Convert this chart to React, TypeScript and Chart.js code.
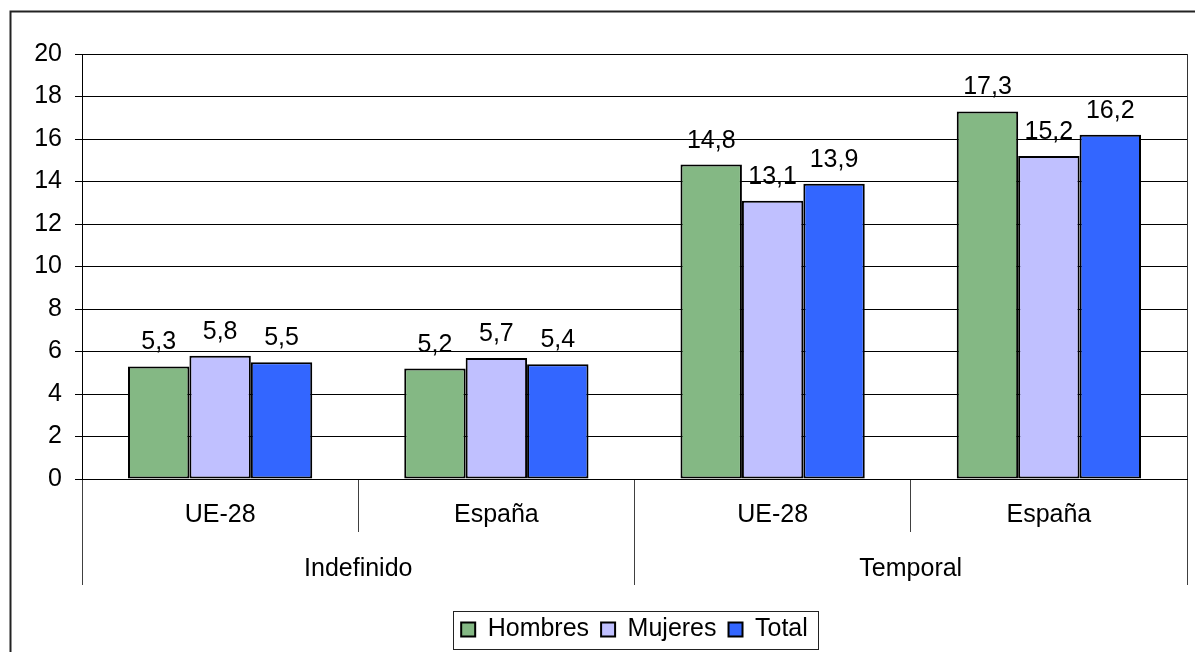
import React, { useEffect, useRef } from "react";
import { Chart, registerables } from "chart.js";

Chart.register(...registerables);

const categories = ["UE-28", "España", "UE-28", "España"];
const groups = ["Indefinido", "Temporal"];
const seriesNames = ["Hombres", "Mujeres", "Total"];
const hombres = [5.3, 5.2, 14.8, 17.3];
const mujeres = [5.8, 5.7, 13.1, 15.2];
const total = [5.5, 5.4, 13.9, 16.2];
const seriesColors = ["#84B884", "#C0C0FF", "#3366FF"];
const yMin = 0;
const yMax = 20;
const yStep = 2;

const FONT_FAMILY = "'Liberation Sans', Arial, sans-serif";
const FONT_SIZE = 25;

const fmt = (v: number) => v.toFixed(1).replace(".", ",");

const framePlugin = {
  id: "frame",
  beforeDraw(chart: any) {
    const ctx = chart.ctx;
    ctx.save();
    ctx.fillStyle = "#fff";
    ctx.fillRect(0, 0, chart.width, chart.height);
    ctx.strokeStyle = "#222";
    ctx.lineWidth = 2;
    ctx.strokeRect(10.5, 11.5, chart.width + 20, chart.height + 20);
    ctx.restore();
  },
  beforeDatasetsDraw(chart: any) {
    const { ctx, chartArea } = chart;
    ctx.save();
    ctx.strokeStyle = "#333";
    ctx.lineWidth = 1;
    ctx.beginPath();
    const x = Math.round(chartArea.right) + 0.5;
    ctx.moveTo(x, chartArea.top);
    ctx.lineTo(x, chartArea.bottom);
    ctx.stroke();
    ctx.restore();
  },
  afterDraw(chart: any) {
    const { ctx } = chart;
    const hb = chart.legend && chart.legend.legendHitBoxes;
    if (hb && hb.length) {
      const first = hb[0];
      const last = hb[hb.length - 1];
      const cy = first.top + first.height / 2;
      const left = Math.round(first.left - 8) + 0.5;
      const right = Math.round(last.left + last.width + 10) + 0.5;
      const top = Math.round(cy - 19) + 0.5;
      const bottom = Math.round(cy + 19) + 0.5;
      ctx.save();
      ctx.strokeStyle = "#222";
      ctx.lineWidth = 1;
      ctx.strokeRect(left, top, right - left, bottom - top);
      ctx.restore();
    }
  },
};

const valueLabelPlugin = {
  id: "valueLabels",
  afterDatasetsDraw(chart: any) {
    const ctx = chart.ctx;
    ctx.save();
    ctx.font = `${FONT_SIZE}px ${FONT_FAMILY}`;
    ctx.fillStyle = "#000";
    ctx.textAlign = "center";
    ctx.textBaseline = "alphabetic";
    chart.data.datasets.forEach((ds: any, i: number) => {
      const meta = chart.getDatasetMeta(i);
      meta.data.forEach((bar: any, j: number) => {
        ctx.fillText(fmt(ds.data[j]), bar.x, bar.y - 17);
      });
    });
    ctx.restore();
  },
};

export default function App() {
  const canvasRef = useRef<HTMLCanvasElement | null>(null);

  useEffect(() => {
    if (!canvasRef.current) return;
    const font = { family: FONT_FAMILY, size: FONT_SIZE };
    const seriesData = [hombres, mujeres, total];
    const chart = new Chart(canvasRef.current, {
      type: "bar",
      data: {
        labels: categories,
        datasets: seriesNames.map((name, i) => ({
          label: name,
          data: seriesData[i],
          backgroundColor: seriesColors[i],
          borderColor: "#000",
          borderWidth: 2,
          borderSkipped: false,
          categoryPercentage: 0.667,
          barPercentage: 1,
        })),
      },
      options: {
        responsive: false,
        animation: false,
        devicePixelRatio: 1,
        layout: { padding: { top: 54, left: 0, right: 8, bottom: 0 } },
        plugins: {
          tooltip: { enabled: false },
          legend: {
            position: "bottom",
            fullSize: false,
            labels: {
              boxWidth: 14,
              boxHeight: 14,
              padding: 12,
              font,
              color: "#000",
            },
          },
        },
        scales: {
          x: {
            type: "category",
            position: "bottom",
            weight: 0,
            offset: true,
            grid: {
              offset: true,
              drawOnChartArea: false,
              drawTicks: true,
              tickLength: 53,
              color: "#404040",
            },
            border: { display: true, color: "#000", width: 1 },
            ticks: { font, color: "#000", padding: -32, maxRotation: 0, autoSkip: false },
            afterFit: (s: any) => {
              s.height = 53;
            },
          },
          x2: {
            type: "category",
            labels: groups,
            position: "bottom",
            weight: 1,
            offset: true,
            grid: {
              offset: true,
              drawOnChartArea: false,
              drawTicks: true,
              tickLength: 53,
              color: "#404040",
            },
            border: { display: false },
            ticks: { font, color: "#000", padding: -31, maxRotation: 0, autoSkip: false },
            afterFit: (s: any) => {
              s.height = 73;
            },
          },
          y: {
            min: yMin,
            max: yMax,
            ticks: { stepSize: yStep, font, color: "#000", padding: 13 },
            grid: { color: "#000", lineWidth: 1, tickLength: 7 },
            border: { display: true, color: "#000", width: 1 },
            afterFit: (s: any) => {
              s.width = 82;
            },
          },
        },
      } as any,
      plugins: [framePlugin, valueLabelPlugin],
    });
    return () => chart.destroy();
  }, []);

  return (
    <div style={{ position: "fixed", left: 0, top: 0, width: 1195, height: 652, background: "#fff" }}>
      <canvas ref={canvasRef} width={1195} height={652} style={{ display: "block" }} />
    </div>
  );
}
